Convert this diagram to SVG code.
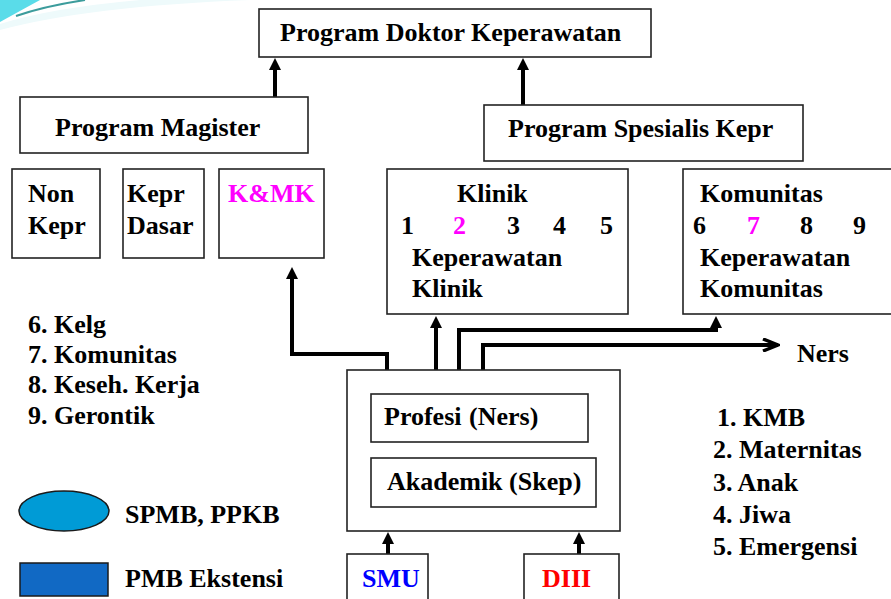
<svg xmlns="http://www.w3.org/2000/svg" width="891" height="599" viewBox="0 0 891 599">
  <defs>
    <marker id="head" viewBox="0 0 12 12" refX="6" refY="6" markerWidth="12" markerHeight="12" markerUnits="userSpaceOnUse" orient="auto">
      <path d="M0,0 L12,6 L0,12 Z" fill="#000000"/>
    </marker>
    <marker id="open" viewBox="0 0 18 14" refX="16" refY="7" markerWidth="18" markerHeight="14" markerUnits="userSpaceOnUse" orient="auto">
      <path d="M1,1 L16,7 L1,13" fill="none" stroke="#000000" stroke-width="3.5"/>
    </marker>
  </defs>

  <rect width="891" height="599" fill="#ffffff"/>

  <!-- corner ornament -->
  <g id="ornament">
    <path d="M0,30 Q90,6 250,0 L140,0 Q50,8 0,24 Z" fill="#eefafb"/>
    <path d="M0,0 L40,0 Q18,12 0,22 Z" fill="#5adce9"/>
    <path d="M16,16 Q45,6 85,0" fill="none" stroke="#3c9c9c" stroke-width="2"/>
  </g>

  <!-- connectors -->
  <g id="connectors" fill="none" stroke="#000000" stroke-width="4">
    <path d="M275,97 V64" marker-end="url(#head)"/>
    <path d="M523,105 V64" marker-end="url(#head)"/>
    <path d="M387,370 V354 H292 V273" marker-end="url(#head)"/>
    <path d="M436,370 V322" marker-end="url(#head)"/>
    <path d="M459,370 V330 H716 V322" marker-end="url(#head)"/>
    <path d="M483,370 V345 H778" marker-end="url(#open)"/>
    <path d="M388,554 V538" marker-end="url(#head)"/>
    <path d="M579,554 V538" marker-end="url(#head)"/>
  </g>

  <g id="doktor">
    <rect x="259" y="9" width="392" height="48" fill="#fff" stroke="#222" stroke-width="1.6"/>
    <text font-family="Liberation Serif" font-weight="bold" font-size="26" x="280" y="41">Program Doktor Keperawatan</text>
  </g>

  <g id="magister">
    <rect x="20" y="97" width="288" height="56" fill="#fff" stroke="#222" stroke-width="1.6"/>
    <text font-family="Liberation Serif" font-weight="bold" font-size="26" x="55" y="136">Program Magister</text>
  </g>

  <g id="spesialis">
    <rect x="484" y="105" width="319" height="56" fill="#fff" stroke="#222" stroke-width="1.6"/>
    <text font-family="Liberation Serif" font-weight="bold" font-size="26" x="508" y="137">Program Spesialis Kepr</text>
  </g>

  <g id="non-kepr">
    <rect x="12" y="169" width="88" height="89" fill="#fff" stroke="#222" stroke-width="1.6"/>
    <text font-family="Liberation Serif" font-weight="bold" font-size="26" x="28" y="202">Non</text>
    <text font-family="Liberation Serif" font-weight="bold" font-size="26" x="28" y="234">Kepr</text>
  </g>

  <g id="kepr-dasar">
    <rect x="123" y="169" width="81" height="89" fill="#fff" stroke="#222" stroke-width="1.6"/>
    <text font-family="Liberation Serif" font-weight="bold" font-size="26" x="127" y="202">Kepr</text>
    <text font-family="Liberation Serif" font-weight="bold" font-size="26" x="127" y="234">Dasar</text>
  </g>

  <g id="kmk">
    <rect x="219" y="169" width="105" height="89" fill="#fff" stroke="#222" stroke-width="1.6"/>
    <text font-family="Liberation Serif" font-weight="bold" font-size="26" fill="#ff00ff" x="228" y="202">K&amp;MK</text>
  </g>

  <g id="klinik">
    <rect x="387" y="169" width="241" height="145" fill="#fff" stroke="#222" stroke-width="1.6"/>
    <text font-family="Liberation Serif" font-weight="bold" font-size="26" x="457" y="202">Klinik</text>
    <text font-family="Liberation Serif" font-weight="bold" font-size="26" x="401" y="234">1</text>
    <text font-family="Liberation Serif" font-weight="bold" font-size="26" fill="#ff00ff" x="453" y="234">2</text>
    <text font-family="Liberation Serif" font-weight="bold" font-size="26" x="507" y="234">3</text>
    <text font-family="Liberation Serif" font-weight="bold" font-size="26" x="553" y="234">4</text>
    <text font-family="Liberation Serif" font-weight="bold" font-size="26" x="600" y="234">5</text>
    <text font-family="Liberation Serif" font-weight="bold" font-size="26" x="412" y="266">Keperawatan</text>
    <text font-family="Liberation Serif" font-weight="bold" font-size="26" x="412" y="297">Klinik</text>
  </g>

  <g id="komunitas">
    <rect x="683" y="169" width="215" height="145" fill="#fff" stroke="#222" stroke-width="1.6"/>
    <text font-family="Liberation Serif" font-weight="bold" font-size="26" x="700" y="202">Komunitas</text>
    <text font-family="Liberation Serif" font-weight="bold" font-size="26" x="693" y="234">6</text>
    <text font-family="Liberation Serif" font-weight="bold" font-size="26" fill="#ff00ff" x="747" y="234">7</text>
    <text font-family="Liberation Serif" font-weight="bold" font-size="26" x="800" y="234">8</text>
    <text font-family="Liberation Serif" font-weight="bold" font-size="26" x="853" y="234">9</text>
    <text font-family="Liberation Serif" font-weight="bold" font-size="26" x="700" y="266">Keperawatan</text>
    <text font-family="Liberation Serif" font-weight="bold" font-size="26" x="700" y="297">Komunitas</text>
  </g>

  <g id="ners-label">
    <text font-family="Liberation Serif" font-weight="bold" font-size="26" x="797" y="362">Ners</text>
  </g>

  <g id="komunitas-list">
    <text font-family="Liberation Serif" font-weight="bold" font-size="26" x="28" y="333">6. Kelg</text>
    <text font-family="Liberation Serif" font-weight="bold" font-size="26" x="28" y="363">7. Komunitas</text>
    <text font-family="Liberation Serif" font-weight="bold" font-size="26" x="28" y="393">8. Keseh. Kerja</text>
    <text font-family="Liberation Serif" font-weight="bold" font-size="26" x="28" y="424">9. Gerontik</text>
  </g>

  <g id="klinik-list">
    <text font-family="Liberation Serif" font-weight="bold" font-size="26" x="717" y="426">1. KMB</text>
    <text font-family="Liberation Serif" font-weight="bold" font-size="26" x="713" y="458">2. Maternitas</text>
    <text font-family="Liberation Serif" font-weight="bold" font-size="26" x="713" y="491">3. Anak</text>
    <text font-family="Liberation Serif" font-weight="bold" font-size="26" x="713" y="523">4. Jiwa</text>
    <text font-family="Liberation Serif" font-weight="bold" font-size="26" x="713" y="555">5. Emergensi</text>
  </g>

  <g id="pendidikan">
    <rect x="347" y="370" width="273" height="161" fill="#fff" stroke="#222" stroke-width="1.6"/>
    <rect x="371" y="394" width="217" height="48" fill="#fff" stroke="#222" stroke-width="1.6"/>
    <text font-family="Liberation Serif" font-weight="bold" font-size="26" x="384" y="425">Profesi <tspan x="469">(Ners)</tspan></text>
    <rect x="371" y="458" width="225" height="49" fill="#fff" stroke="#222" stroke-width="1.6"/>
    <text font-family="Liberation Serif" font-weight="bold" font-size="26" x="387" y="490">Akademik (Skep)</text>
  </g>

  <g id="smu">
    <rect x="347" y="554" width="81" height="60" fill="#fff" stroke="#222" stroke-width="1.6"/>
    <text font-family="Liberation Serif" font-weight="bold" font-size="26" fill="#0000ff" x="362" y="587">SMU</text>
  </g>

  <g id="diii">
    <rect x="524" y="554" width="95" height="60" fill="#fff" stroke="#222" stroke-width="1.6"/>
    <text font-family="Liberation Serif" font-weight="bold" font-size="26" fill="#ff0000" x="542" y="587">DIII</text>
  </g>

  <g id="legend">
    <ellipse cx="64" cy="511" rx="45" ry="20" fill="#009bd6" stroke="#1a1a1a" stroke-width="1.5"/>
    <text font-family="Liberation Serif" font-weight="bold" font-size="26" x="125" y="523">SPMB, PPKB</text>
    <rect x="20" y="563" width="88" height="33" fill="#1169c4" stroke="#1a1a1a" stroke-width="1.5"/>
    <text font-family="Liberation Serif" font-weight="bold" font-size="26" x="125" y="587">PMB Ekstensi</text>
  </g>
</svg>
